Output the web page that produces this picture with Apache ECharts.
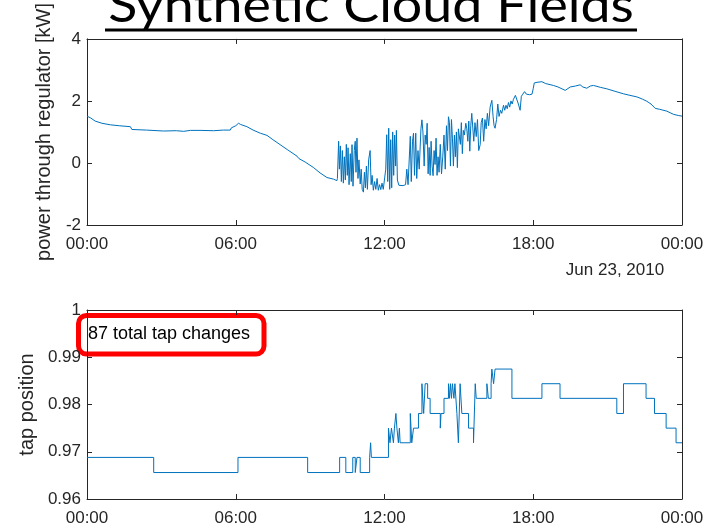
<!DOCTYPE html>
<html lang="en">
<head>
    <meta charset="UTF-8">
    <title>Synthetic Cloud Fields</title>
    <style>
        html, body { margin: 0; padding: 0; background: #fff; }
        #main { width: 720px; height: 532px; }
    </style>
    <script src="https://cdn.jsdelivr.net/npm/echarts@6/dist/echarts.min.js"></script>
</head>
<body>
    <div id="main"></div>
    <script>
        // hours of the day on both x axes
        var hourTicks = [0, 6, 12, 18, 24];

        // power through regulator [kW], [hour, kW]
        var pwrMorning = [
            [0, 1.51], [0.15, 1.45], [0.33, 1.35], [0.6, 1.28], [0.94, 1.23], [1.3, 1.20],
            [1.75, 1.17], [1.81, 1.08], [2.4, 1.06], [3.09, 1.03], [3.6, 1.04], [3.9, 1.02],
            [4.17, 1.05], [4.6, 1.05], [5.1, 1.04], [5.5, 1.06], [5.78, 1.06], [5.82, 1.13],
            [5.89, 1.16], [6.0, 1.20], [6.11, 1.28], [6.2, 1.24], [6.45, 1.17], [6.7, 1.06],
            [6.99, 0.96], [7.26, 0.89], [7.5, 0.75], [7.79, 0.59], [7.85, 0.55], [8.1, 0.42],
            [8.47, 0.22], [8.55, 0.14], [8.6, 0.20], [8.8, 0.03], [9.14, -0.15], [9.2, -0.19],
            [9.4, -0.32], [9.68, -0.47], [9.94, -0.52], [10.08, -0.57]
        ];
        var pwrClouds = [
            [10.10, -0.50], [10.15, 0.70], [10.18, -0.20], [10.22, 0.55], [10.26, -0.60], [10.30, 0.40],
            [10.34, -0.65], [10.38, 0.20], [10.42, -0.55], [10.46, 0.60], [10.50, -0.40], [10.53, 0.49],
            [10.57, -0.70], [10.62, 0.30], [10.66, -0.60], [10.69, 0.59], [10.73, -0.75], [10.78, 0.40],
            [10.82, 0.70], [10.85, -0.30], [10.89, 0.80], [10.93, -0.50], [10.97, 0.10], [11.02, -0.68],
            [11.06, -0.20], [11.10, -0.85], [11.15, -0.94], [11.19, -0.30], [11.23, -0.80], [11.27, -0.10],
            [11.31, -0.85], [11.36, 0.10], [11.42, 0.40], [11.46, -0.70], [11.50, -0.40], [11.55, -0.88],
            [11.60, -0.60], [11.65, -0.85], [11.70, -0.50], [11.75, -0.88], [11.80, -0.70], [11.85, -0.86],
            [11.90, -0.65], [11.95, -0.85], [12.00, -0.80], [12.05, -0.20], [12.09, 0.91], [12.13, -0.60],
            [12.17, 1.12], [12.21, -0.85], [12.25, 0.75], [12.29, -0.80], [12.33, 1.00], [12.37, -0.40],
            [12.41, 0.90], [12.45, -0.10], [12.48, 1.05], [12.52, -0.55], [12.58, -0.72], [12.65, -0.75],
            [12.75, -0.73], [12.85, -0.70], [12.90, -0.20], [12.95, -0.70], [13.00, -0.68], [13.04, 0.86],
            [13.08, -0.60], [13.13, 0.70], [13.17, 0.96], [13.21, -0.40], [13.26, 0.96], [13.30, -0.50],
            [13.35, 0.40], [13.40, -0.20], [13.47, 1.10], [13.51, 1.39], [13.55, 1.00], [13.60, -0.10],
            [13.64, 0.90], [13.68, 0.60], [13.72, 1.28], [13.76, -0.35], [13.80, 0.50], [13.84, -0.40],
            [13.88, 0.70], [13.92, -0.10], [13.96, -0.41], [14.00, 0.40], [14.04, -0.05], [14.08, 0.80],
            [14.12, -0.40], [14.16, 0.20], [14.20, -0.30], [14.25, 0.60], [14.30, -0.35], [14.35, 0.20],
            [14.40, 0.90], [14.45, -0.20], [14.50, 1.20], [14.54, 0.40], [14.58, 1.49], [14.62, 1.30],
            [14.66, -0.10], [14.70, 1.40], [14.74, 0.80], [14.78, -0.10], [14.82, 0.90], [14.86, 0.20],
            [14.90, 1.00], [14.94, -0.15], [14.98, 1.10], [15.02, 1.15], [15.06, 0.60], [15.10, 1.30],
            [15.14, 0.30], [15.18, 1.05], [15.22, 0.90], [15.28, 1.28], [15.32, 1.10], [15.36, 0.70],
            [15.40, 1.35], [15.44, 0.38], [15.48, 1.20], [15.52, 1.60], [15.56, 1.55], [15.60, 0.70],
            [15.65, 1.30], [15.70, 0.85], [15.75, 1.40], [15.80, 0.40], [15.86, 0.59], [15.90, 1.30],
            [15.95, 1.45], [16.00, 0.70], [16.05, 1.40], [16.10, 1.10], [16.15, 1.60], [16.20, 1.20],
            [16.26, 1.80], [16.33, 2.02], [16.38, 1.50], [16.42, 1.20], [16.46, 1.12], [16.52, 1.40],
            [16.57, 1.90], [16.62, 1.50], [16.68, 1.70], [16.73, 1.60], [16.80, 1.86], [16.85, 1.70],
            [16.90, 1.86], [16.95, 1.75], [17.00, 1.95], [17.05, 1.80], [17.10, 2.00], [17.15, 1.90],
            [17.20, 2.05], [17.28, 2.18], [17.34, 2.18], [17.40, 1.90], [17.47, 1.70], [17.52, 2.15],
            [17.58, 2.22], [17.65, 2.30], [17.72, 2.22], [17.78, 2.26], [17.85, 2.20], [17.95, 2.22],
            [18.00, 2.40], [18.04, 2.58]
        ];
        var pwrEvening = [
            [18.15, 2.60], [18.35, 2.62], [18.5, 2.56], [18.81, 2.50], [19.0, 2.45], [19.29, 2.34],
            [19.4, 2.40], [19.49, 2.45], [19.7, 2.48], [19.89, 2.52], [20.0, 2.45], [20.16, 2.41],
            [20.3, 2.48], [20.43, 2.50], [20.7, 2.44], [20.97, 2.39], [21.3, 2.31], [21.64, 2.23],
            [21.9, 2.18], [22.18, 2.13], [22.4, 2.06], [22.58, 1.99], [22.75, 1.90], [22.92, 1.76],
            [23.1, 1.73], [23.39, 1.67], [23.65, 1.57], [23.85, 1.53], [24, 1.51]
        ];

        // tap position, [hour it changes, new tap value]
        var tapSteps = [
            [0, 0.9688], [2.69, 0.9656], [6.09, 0.9688], [8.90, 0.9656], [10.19, 0.9688], [10.44, 0.9656],
            [10.72, 0.9688], [10.82, 0.9656], [10.89, 0.9688], [11.02, 0.9656], [11.40, 0.9688], [11.44, 0.9719],
            [11.47, 0.9688], [12.16, 0.9750], [12.22, 0.9719], [12.28, 0.9750], [12.36, 0.9719], [12.40, 0.9750],
            [12.46, 0.9781], [12.50, 0.9750], [12.56, 0.9719], [12.60, 0.9750], [12.63, 0.9719], [13.04, 0.9781],
            [13.10, 0.9719], [13.17, 0.9750], [13.37, 0.9781], [13.51, 0.9844], [13.58, 0.9781], [13.64, 0.9844],
            [13.74, 0.9813], [13.84, 0.9781], [14.25, 0.9750], [14.28, 0.9781], [14.40, 0.9813], [14.58, 0.9844],
            [14.62, 0.9813], [14.66, 0.9844], [14.70, 0.9813], [14.74, 0.9844], [14.80, 0.9813], [14.84, 0.9844],
            [14.92, 0.9781], [14.98, 0.9719], [15.05, 0.9844], [15.12, 0.9781], [15.39, 0.9750], [15.59, 0.9719],
            [15.66, 0.9844], [15.70, 0.9813], [16.13, 0.9844], [16.19, 0.9813], [16.30, 0.9844], [16.33, 0.9875],
            [16.40, 0.9844], [16.46, 0.9875], [17.14, 0.9813], [18.35, 0.9844], [19.08, 0.9813], [21.37, 0.9781],
            [21.64, 0.9844], [22.55, 0.9813], [22.89, 0.9781], [23.36, 0.9750], [23.76, 0.9719], [24, 0.9719]
        ];

        var tapNote = '87 total tap changes';
        var dateNote = 'Jun 23, 2010';

        var axisColor = '#262626';
        var lineBlue = '#0072BD';
        var font = 'Liberation Sans';

        function hourLabel(v) {
            var h = v % 24;
            return (h < 10 ? '0' : '') + h + ':00';
        }

        function xAx(grid, pos, labels) {
            return {
                gridIndex: grid, type: 'value', position: pos,
                min: hourTicks[0], max: hourTicks[hourTicks.length - 1], interval: 6,
                axisLine: { show: true, onZero: false, lineStyle: { color: axisColor, width: 1 } },
                axisTick: { show: true, inside: true, length: 5, lineStyle: { color: axisColor } },
                axisLabel: {
                    show: labels, margin: 11, fontSize: 17, fontFamily: font, color: axisColor,
                    formatter: hourLabel, showMinLabel: true, showMaxLabel: true
                },
                splitLine: { show: false }
            };
        }

        function yAx(grid, pos, min, max, step, labels, name, gap) {
            return {
                gridIndex: grid, type: 'value', position: pos,
                min: min, max: max, interval: step,
                name: name, nameLocation: 'middle', nameGap: gap,
                nameTextStyle: { fontSize: 20, fontFamily: font, color: axisColor },
                axisLine: { show: true, onZero: false, lineStyle: { color: axisColor, width: 1 } },
                axisTick: { show: true, inside: true, length: 5, lineStyle: { color: axisColor } },
                axisLabel: {
                    show: labels, margin: 6, fontSize: 17, fontFamily: font, color: axisColor,
                    formatter: function (v) { return String(+v.toFixed(2)); }
                },
                splitLine: { show: false }
            };
        }

        var myChart = echarts.init(document.getElementById('main'));

        var option = {
            animation: false,
            backgroundColor: '#fff',
            grid: [
                { left: 87, right: 38, top: 36, height: 189 },
                { left: 87, right: 38, top: 310, height: 189 }
            ],
            xAxis: [
                xAx(0, 'bottom', true), xAx(0, 'top', false),
                xAx(1, 'bottom', true), xAx(1, 'top', false)
            ],
            yAxis: [
                yAx(0, 'left', -2, 4, 2, true, 'power through regulator [kW]', 30),
                yAx(0, 'right', -2, 4, 2, false, '', 0),
                yAx(1, 'left', 0.96, 1, 0.01, true, 'tap position', 49),
                yAx(1, 'right', 0.96, 1, 0.01, false, '', 0)
            ],
            graphic: [
                {
                    // title is narrow and wide in the slide, stretch a bit
                    type: 'text', x: 371, y: 7, scaleX: 1.12,
                    style: { text: 'Synthetic Cloud Fields', font: '48px Lato', fill: '#000', align: 'center', verticalAlign: 'middle' }
                },
                {
                    type: 'line', shape: { x1: 105, y1: 30, x2: 637, y2: 30 },
                    style: { stroke: '#000', lineWidth: 3 }
                },
                {
                    type: 'text', x: 615, y: 270,
                    style: { text: dateNote, font: '17px "Liberation Sans"', fill: axisColor, align: 'center', verticalAlign: 'middle' }
                },
                {
                    type: 'rect', shape: { x: 78.5, y: 315.5, width: 185.5, height: 38.5, r: 8 },
                    style: { fill: 'none', stroke: '#FF0000', lineWidth: 5 }
                },
                {
                    type: 'text', x: 88, y: 334,
                    style: { text: tapNote, font: '18px "Liberation Sans"', fill: '#000', align: 'left', verticalAlign: 'middle' }
                }
            ],
            series: [
                {
                    type: 'line', xAxisIndex: 0, yAxisIndex: 0,
                    data: pwrMorning.concat(pwrClouds, pwrEvening),
                    showSymbol: false, lineStyle: { color: lineBlue, width: 1 }
                },
                {
                    type: 'line', xAxisIndex: 2, yAxisIndex: 2, step: 'end',
                    data: tapSteps,
                    showSymbol: false, lineStyle: { color: lineBlue, width: 1 }
                }
            ]
        };

        myChart.setOption(option);
    </script>
</body>
</html>
